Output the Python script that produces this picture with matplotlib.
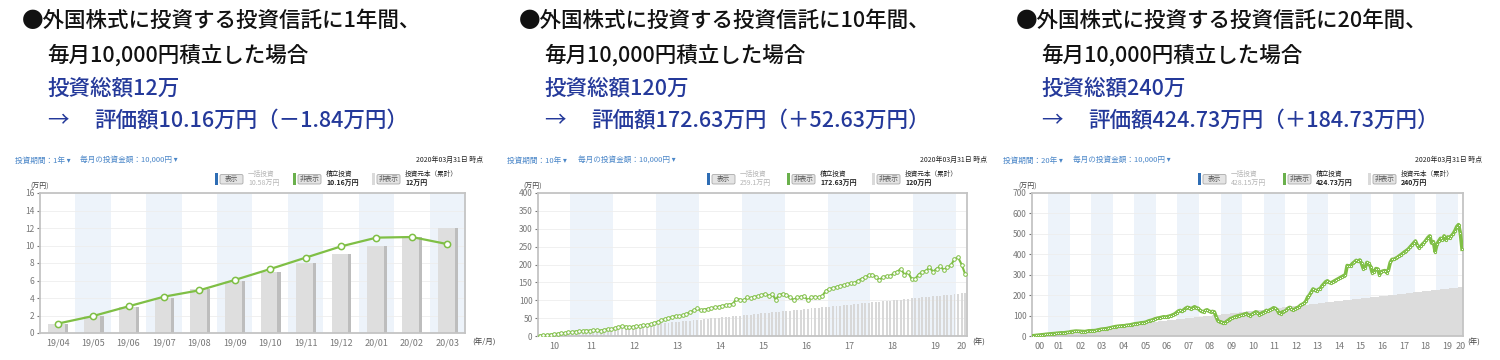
import numpy as np
import matplotlib.pyplot as plt
from matplotlib.patches import Rectangle, FancyBboxPatch

plt.rcParams['font.family'] = ['Noto Sans CJK JP', 'DejaVu Sans']

W, H = 1500, 360

# ---- data (万円) ----
months_1y = ['19/04', '19/05', '19/06', '19/07', '19/08', '19/09',
             '19/10', '19/11', '19/12', '20/01', '20/02', '20/03']
value_1y = [1.07, 1.94, 3.05, 4.15, 4.88, 6.06, 7.31, 8.61, 9.90, 10.9, 10.97, 10.16]
principal_1y = [1, 2, 3, 4, 5, 6, 7, 8, 9, 10, 11, 12]

years_10y = ['10', '11', '12', '13', '14', '15', '16', '17', '18', '19', '20']
value_10y = [1, 2, 3, 4, 5.2, 6.3, 7.5, 8.5, 10,
             11, 12.5, 13, 14, 15, 15, 15.5, 16, 15, 17, 19, 19,
             22, 25, 27, 26, 24, 26, 27, 28, 30, 31, 33, 36,
             40, 44, 47, 50, 53, 56, 55, 58, 62, 66, 72, 77,
             72, 74, 76, 78, 80, 82, 84, 86, 88, 90, 104, 102,
             100, 108, 106, 110, 111, 114, 118, 113, 117, 102, 115, 118,
             115, 108, 101, 108, 110, 111, 100, 109, 110, 108, 112, 126,
             132, 134, 137, 140, 142, 145, 148, 148, 155, 160, 164, 170,
             172, 165, 157, 165, 167, 168, 175, 180, 188, 172, 178, 160,
             160, 172, 180, 182, 192, 180, 188, 195, 185, 192, 198, 215,
             220, 200, 172.63]
principal_10y = np.arange(1, 121)

years_20y = ['00', '01', '02', '03', '04', '05', '06', '07', '08', '09', '10',
             '11', '12', '13', '14', '15', '16', '17', '18', '19', '20']
value_20y = [1, 2, 3, 4, 4.8, 5.8, 6.8, 7.5, 8.5,
             9.5, 10.5, 11, 12, 13, 14, 15, 15.5, 15, 16.5, 17.5, 18,
             21, 22, 23, 24, 23.5, 23, 22, 22, 21.5, 23, 25, 25,
             26, 26, 27, 29, 31, 33, 34, 35, 36, 38, 40, 42,
             44, 46, 47, 48, 49, 50, 50, 52, 53, 54, 56, 58,
             60, 61, 62, 64, 65, 66, 68, 72, 75, 77, 80, 84,
             86, 88, 90, 92, 94, 92, 95, 97, 100, 104, 108, 115,
             122, 125, 120, 128, 135, 140, 138, 132, 138, 143, 138, 135,
             126, 120, 118, 125, 128, 122, 118, 120, 118, 95, 75, 70,
             68, 62, 65, 72, 78, 85, 88, 92, 95, 98, 100, 102,
             104, 108, 110, 102, 100, 106, 112, 118, 115, 105, 110, 115,
             118, 125, 122, 128, 132, 138, 135, 128, 112, 110, 118, 120,
             125, 135, 140, 130, 128, 132, 138, 142, 150, 155, 160, 170,
             190, 200, 215, 230, 225, 220, 228, 232, 245, 255, 265, 270,
             262, 260, 265, 270, 275, 280, 285, 290, 295, 300, 345, 342,
             345, 355, 362, 370, 365, 372, 355, 330, 335, 360, 355, 340,
             310, 315, 330, 328, 300, 315, 318, 320, 310, 325, 360, 375,
             375, 380, 385, 392, 398, 405, 412, 418, 425, 435, 445, 455,
             465, 445, 432, 440, 450, 458, 470, 482, 490, 455, 462, 412,
             450, 465, 478, 470, 490, 470, 485, 480, 490, 500, 515, 535,
             545, 505, 424.73]
principal_20y = np.arange(1, 241)

titles_period = ['1年間', '10年間', '20年間']
titles_total = ['投資総額12万', '投資総額120万', '投資総額240万']
titles_result = ['評価額10.16万円（－1.84万円）', '評価額172.63万円（＋52.63万円）',
                 '評価額424.73万円（＋184.73万円）']
period_labels = ['1年', '10年', '20年']
lump_amounts = ['10.58万円', '259.1万円', '428.15万円']
tsumitate_amounts = ['10.16万円', '172.63万円', '424.73万円']
principal_amounts = ['12万円', '120万円', '240万円']

GREEN = '#7fbf45'
BAND = '#edf3fa'
BLUE_TXT = '#24399a'


def year_spans(start_year, start_month, n):
    spans = []
    year, first = start_year, 0
    while first < n:
        last = min(n - 1, first + (12 - start_month if year == start_year else 11))
        spans.append((year, first, last))
        first = last + 1
        year += 1
    return spans


def style_axes(ax, ymax, ystep, n):
    ax.set_xlim(-0.5, n - 0.5)
    ax.set_ylim(0, ymax)
    ax.set_yticks(np.arange(0, ymax + 1, ystep))
    ax.grid(axis='y', color='#eeeeee', lw=0.6)
    ax.set_axisbelow(True)
    for s in ax.spines.values():
        s.set_color('#c4c4c4')
        s.set_linewidth(1.3)
    ax.tick_params(axis='y', labelsize=6, colors='#777777', length=2, pad=2)
    ax.tick_params(axis='x', labelsize=6.5, colors='#777777', length=0, pad=4)


fig = plt.figure(figsize=(W / 100, H / 100), dpi=100)


def add_ax(left, top, right, bottom):
    return fig.add_axes([left / W, 1 - bottom / H, (right - left) / W, (bottom - top) / H])


# panel 1 : 1 year
ax1 = add_ax(40, 193, 465, 333)
x1 = np.arange(len(months_1y))
for i in x1:
    if i % 2 == 1:
        ax1.axvspan(i - 0.5, i + 0.5, color=BAND, lw=0, zorder=0)
ax1.bar(x1 + 0.06, principal_1y, width=0.47, color='#bdbdbd', zorder=1)
ax1.bar(x1 - 0.03, principal_1y, width=0.47, color='#dedede', zorder=2)
ax1.plot(x1, value_1y, color=GREEN, lw=1.6, marker='o', ms=4.5, mfc='white',
         mec=GREEN, mew=1.1, zorder=3)
style_axes(ax1, 16, 2, len(months_1y))
ax1.set_xticks(x1)
ax1.set_xticklabels(months_1y)


def long_panel(ax, values, principal, labels, start_year, ymax, ystep, bar_w, bar_c, lw, ms):
    n = len(values)
    xs = np.arange(n)
    spans = year_spans(start_year, 4, n)
    for year, first, last in spans:
        if year % 2 == 1:
            ax.axvspan(first - 0.5, last + 0.5, color=BAND, lw=0, zorder=0)
    ax.bar(xs, principal, width=bar_w, color=bar_c, lw=0, zorder=1)
    ax.plot(xs, values, color=GREEN, lw=lw, marker='o', ms=ms, mfc='white',
            mec=GREEN, mew=0.7, zorder=3)
    style_axes(ax, ymax, ystep, n)
    ax.set_xticks([(f + l) / 2 for _, f, l in spans])
    ax.set_xticklabels(labels)


ax2 = add_ax(538, 193, 967, 336)
long_panel(ax2, value_10y, principal_10y, years_10y, 2010, 400, 50, 0.55, '#d8d8d8', 1.5, 2.6)

ax3 = add_ax(1032, 193, 1463, 336)
long_panel(ax3, value_20y, principal_20y, years_20y, 2000, 700, 100, 1.0, '#dcdcdc', 2.6, 1.6)

# overlay in pixel coordinates for the texts and legend widgets
ov = fig.add_axes([0, 0, 1, 1])
ov.set_xlim(0, W)
ov.set_ylim(H, 0)
ov.axis('off')

title_x = [22, 519, 1016]
head_x = [15, 507, 1003]
monthly_x = [80, 578, 1073]
date_x = [483, 987, 1482]
unit_x = [30, 523, 1018]
unit_x_lbl = [472, 972, 1467]
unit_x_txt = ['(年/月)', '(年)', '(年)']
leg_x = [(215, 293, 372), (707, 787, 872), (1198, 1283, 1368)]
TS = 15.5

for k in range(3):
    tx = title_x[k]
    ov.text(tx, 21, '●外国株式に投資する投資信託に' + titles_period[k] + '、',
            fontsize=TS, va='center', color='#111111', fontweight='medium')
    ov.text(tx + 25, 56, '毎月10,000円積立した場合', fontsize=TS, va='center',
            color='#111111', fontweight='medium')
    ov.text(tx + 25, 89, titles_total[k], fontsize=TS, va='center', color=BLUE_TXT,
            fontweight='medium')
    ov.text(tx + 25, 121, '→', fontsize=TS, va='center', color=BLUE_TXT)
    ov.text(tx + 72, 121, titles_result[k], fontsize=TS, va='center', color=BLUE_TXT,
            fontweight='medium')

    # chart header
    ov.text(head_x[k], 161, '投資期間：' + period_labels[k] + ' ▾', fontsize=5.5,
            va='center', color='#4a86c8')
    ov.text(monthly_x[k], 161, '毎月の投資金額：10,000円 ▾', fontsize=5.5,
            va='center', color='#4a86c8')
    ov.text(date_x[k], 160, '2020年03月31日 時点', fontsize=5, va='center',
            ha='right', color='#222222')
    ov.text(unit_x[k], 187, '(万円)', fontsize=5, va='center', color='#444444')
    ov.text(unit_x_lbl[k], 343, unit_x_txt[k], fontsize=5.5, va='center', color='#444444')

    # legend widgets
    bx, gx, px = leg_x[k]
    items = [(bx, '#2e6db4', '表示', '一括投資', lump_amounts[k], '#b5b5b5', 'normal'),
             (gx, '#6ab04c', '非表示', '積立投資', tsumitate_amounts[k], '#222222', 'bold'),
             (px, '#dadada', '非表示', '投資元本（累計）', principal_amounts[k], '#222222', 'bold')]
    for x0, col, btn, name, amount, tcol, tw in items:
        ov.add_patch(Rectangle((x0, 173), 2.5, 12, color=col, lw=0))
        ov.add_patch(FancyBboxPatch((x0 + 5, 174.5), 23, 9.5, boxstyle='round,pad=0,rounding_size=1.5',
                                    fc='#e4e4e4', ec='#aaaaaa', lw=0.6))
        ov.text(x0 + 16.5, 179.3, btn, fontsize=4.8, ha='center', va='center', color='#555555')
        ov.text(x0 + 33, 173.5, name, fontsize=4.8, va='center', color=tcol)
        ov.text(x0 + 33, 183, amount, fontsize=5, va='center', color=tcol, fontweight=tw)

fig.savefig('out.png', dpi=100, facecolor='white')
